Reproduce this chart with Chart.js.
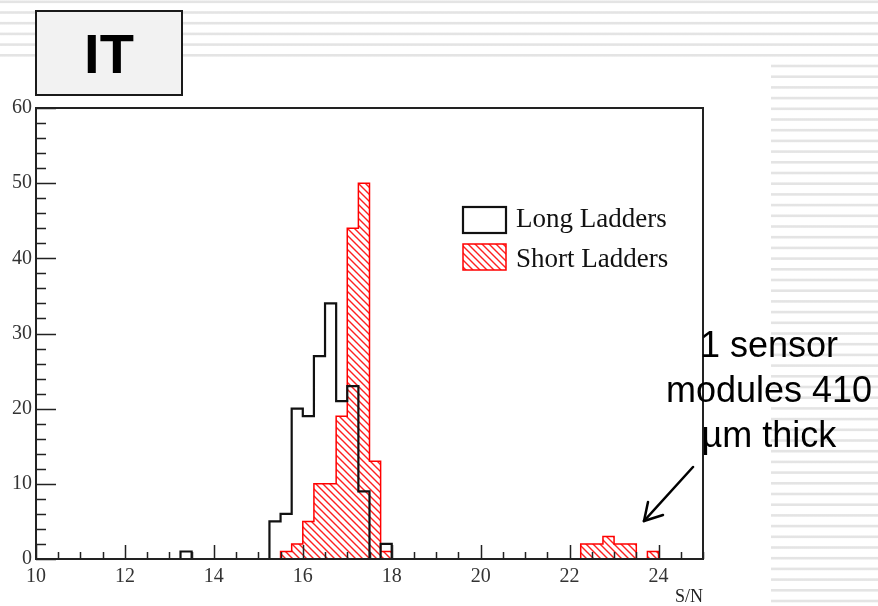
<!DOCTYPE html>
<html>
<head>
<meta charset="utf-8">
<script src="https://cdn.jsdelivr.net/npm/chart.js@4.4.1/dist/chart.umd.min.js"></script>
<style>
  html, body { margin: 0; padding: 0; }
  body {
    width: 878px; height: 606px; position: relative; overflow: hidden;
    background: repeating-linear-gradient(to bottom, #fff 0px, #e4e4e4 1px, #e4e4e4 2.6px, #fff 3.6px, #fff 10.7px);
  }
  #paper { position: absolute; left: 0; top: 58px; width: 771px; height: 548px; background: #fff; }
  #wrap { position: absolute; left: 0; top: 0; width: 878px; height: 606px; }
  #itbox {
    position: absolute; left: 35px; top: 10px; width: 148px; height: 86px; box-sizing: border-box;
    border: 2px solid #1a1a1a; background: #f2f2f2;
    font: bold 56px "Liberation Sans", Arial, sans-serif; color: #000;
    display: flex; align-items: center; justify-content: center;
  }
  #note {
    position: absolute; left: 658px; top: 322px; width: 222px; text-align: center;
    font: 36px "Liberation Sans", Arial, sans-serif; line-height: 45px; color: #000;
  }
  #arrow { position: absolute; left: 0; top: 0; }
</style>
</head>
<body>
<div id="paper"></div>
<div id="wrap"><canvas id="snChart"></canvas></div>
<div id="itbox">IT</div>
<div id="note">1 sensor<br>modules 410<br>µm thick</div>
<svg id="arrow" width="878" height="606">
  <g stroke="#000" stroke-width="2.5" fill="none" stroke-linecap="round">
    <line x1="693" y1="467" x2="644" y2="521"/>
    <line x1="644" y1="521" x2="648" y2="502"/>
    <line x1="644" y1="521" x2="663" y2="515"/>
  </g>
</svg>
<script>
// bin lower edges (S/N) and counts, bin width 0.25
const longEdges = [13.25, 13.5, 15.25, 15.5, 15.75, 16.0, 16.25, 16.5, 16.75, 17.0, 17.25, 17.5, 17.75, 18.0];
const longCounts = [1, 0, 5, 6, 20, 19, 27, 34, 21, 23, 9, 0, 2, 0];
const shortEdges = [15.5, 15.75, 16.0, 16.25, 16.5, 16.75, 17.0, 17.25, 17.5, 17.75, 18.0, 22.25, 22.5, 22.75, 23.0, 23.25, 23.5, 23.75, 24.0];
const shortCounts = [1, 2, 5, 10, 10, 19, 44, 50, 13, 1, 0, 2, 2, 3, 2, 2, 0, 1, 0];
const seriesNames = ["Long Ladders", "Short Ladders"];
const xRange = [10, 25];
const yRange = [0, 60];

function toPoints(edges, counts) {
  const pts = [{ x: edges[0], y: 0 }];
  edges.forEach((e, i) => pts.push({ x: e, y: counts[i] }));
  return pts;
}

// red hatch
const pc = document.createElement("canvas");
pc.width = 7; pc.height = 7;
const p = pc.getContext("2d");
p.strokeStyle = "#ff2020";
p.lineWidth = 1.4;
p.beginPath();
p.moveTo(-2, -2); p.lineTo(9, 9);
p.moveTo(-2, 5); p.lineTo(2, 9);
p.moveTo(5, -2); p.lineTo(9, 2);
p.stroke();
const hatch = p.createPattern(pc, "repeat");

const rootFrame = {
  id: "rootFrame",
  afterDatasetsDraw(chart) {
    const { ctx, chartArea: a, scales: { x, y } } = chart;
    ctx.save();
    ctx.strokeStyle = "#222";
    ctx.lineWidth = 2;
    ctx.strokeRect(a.left, a.top, a.right - a.left, a.bottom - a.top);
    ctx.lineWidth = 1.5;
    ctx.beginPath();
    for (let v = xRange[0]; v <= xRange[1]; v += 0.5) {
      const px = Math.round(x.getPixelForValue(v)) + 0.5;
      const len = v % 2 === 0 ? 14 : 7;
      ctx.moveTo(px, a.bottom);
      ctx.lineTo(px, a.bottom - len);
    }
    for (let v = yRange[0]; v <= yRange[1]; v += 2) {
      const py = Math.round(y.getPixelForValue(v)) + 0.5;
      const len = v % 10 === 0 ? 20 : 10;
      ctx.moveTo(a.left, py);
      ctx.lineTo(a.left + len, py);
    }
    ctx.stroke();

    // legend
    const ds = chart.data.datasets;
    const boxTops = [207, 244];
    const textBase = [227, 267];
    ctx.font = "27px 'Liberation Serif', 'Times New Roman', serif";
    ctx.textBaseline = "alphabetic";
    ds.forEach((d, i) => {
      const bx = 463, by = boxTops[i], bw = 43, bh = 26;
      if (d.fill) {
        ctx.fillStyle = d.backgroundColor;
        ctx.fillRect(bx, by, bw, bh);
      }
      ctx.strokeStyle = d.borderColor;
      ctx.lineWidth = d.borderWidth;
      ctx.strokeRect(bx, by, bw, bh);
      ctx.fillStyle = "#111";
      ctx.fillText(d.label, 516, textBase[i]);
    });
    ctx.restore();
  }
};

const ctx = document.getElementById("snChart").getContext("2d");
new Chart(ctx, {
  type: "line",
  data: {
    datasets: [
      {
        label: seriesNames[0],
        data: toPoints(longEdges, longCounts),
        stepped: "before",
        borderColor: "#111",
        borderWidth: 2.2,
        fill: false,
        pointRadius: 0,
      },
      {
        label: seriesNames[1],
        data: toPoints(shortEdges, shortCounts),
        stepped: "before",
        borderColor: "#ff0000",
        borderWidth: 1.5,
        backgroundColor: hatch,
        fill: "origin",
        pointRadius: 0,
      },
    ],
  },
  options: {
    responsive: true,
    maintainAspectRatio: false,
    animation: false,
    devicePixelRatio: 1,
    layout: { padding: { left: 0, top: 108, right: 175, bottom: 0 } },
    plugins: {
      legend: { display: false },
      tooltip: { enabled: false },
    },
    scales: {
      x: {
        type: "linear",
        min: xRange[0],
        max: xRange[1],
        grid: { display: false, drawTicks: false },
        border: { display: false },
        ticks: {
          stepSize: 2,
          includeBounds: false,
          padding: 6,
          maxRotation: 0,
          color: "#333",
          font: { family: "'Liberation Serif', 'Times New Roman', serif", size: 20 },
        },
        title: {
          display: true,
          text: "S/N",
          align: "end",
          color: "#222",
          padding: { top: 0, bottom: 0 },
          font: { family: "'Liberation Serif', 'Times New Roman', serif", size: 18, lineHeight: 1 },
        },
        afterFit: (s) => { s.height = 47; },
      },
      y: {
        min: yRange[0],
        max: yRange[1],
        grid: { display: false, drawTicks: false },
        border: { display: false },
        ticks: {
          stepSize: 10,
          padding: 4,
          color: "#333",
          font: { family: "'Liberation Serif', 'Times New Roman', serif", size: 20 },
        },
        afterFit: (s) => { s.width = 36; },
      },
    },
  },
  plugins: [rootFrame],
});
</script>
</body>
</html>
